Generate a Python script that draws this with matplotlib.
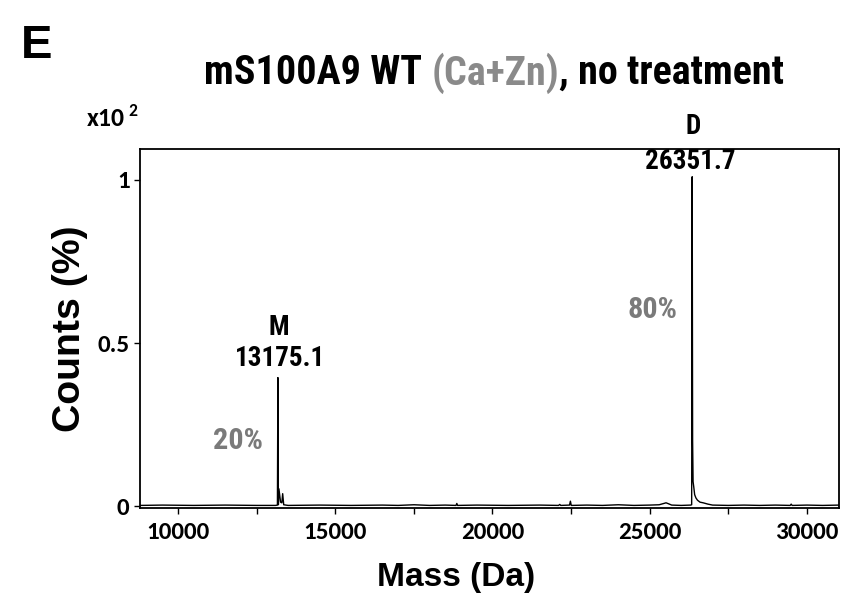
import matplotlib
matplotlib.use("Agg")
import matplotlib.pyplot as plt
from matplotlib import font_manager as fm
from matplotlib.ticker import MultipleLocator, FixedLocator

# deconvoluted mass spectrum (counts in units of 10^2 %)
mass = [8790, 9500, 10500, 11500, 12500, 13100, 13160, 13175.1, 13190, 13207,
        13260, 13300, 13327, 13360, 13500, 14500, 15500, 16500, 17000, 17500,
        18000, 18500, 18840, 18866, 18890, 19500, 20500, 21500, 22100, 22140,
        22170, 22450, 22478, 22505, 23000, 23500, 24000, 24500, 25000, 25300,
        25450, 25520, 25600, 25700, 26000, 26300, 26335, 26351.7, 26365, 26380,
        26400, 26430, 26470, 26520, 26600, 26700, 26850, 27000, 27500, 28000,
        28500, 29000, 29470, 29500, 29530, 30000, 30500, 31020]
counts = [0.002, 0.003, 0.002, 0.003, 0.002, 0.002, 0.003, 0.394, 0.004, 0.053,
          0.012, 0.010, 0.038, 0.004, 0.002, 0.003, 0.002, 0.003, 0.002, 0.004,
          0.002, 0.003, 0.002, 0.008, 0.002, 0.003, 0.002, 0.003, 0.002, 0.005,
          0.002, 0.003, 0.015, 0.002, 0.003, 0.002, 0.004, 0.002, 0.003, 0.004,
          0.008, 0.010, 0.007, 0.003, 0.002, 0.003, 0.004, 1.010, 0.200, 0.075,
          0.060, 0.035, 0.025, 0.018, 0.012, 0.010, 0.006, 0.003, 0.002, 0.003,
          0.002, 0.003, 0.002, 0.006, 0.002, 0.003, 0.002, 0.003]

x_ticks = [10000, 15000, 20000, 25000, 30000]
y_ticks = [0, 0.5, 1]
y_ticklabels = ["0", "0.5", "1"]

peak_names = ["M", "D"]
peak_mass = [13175.1, 26351.7]
peak_share = ["20%", "80%"]

names = {f.name for f in fm.fontManager.ttflist}


def pick(cands):
    for c in cands:
        if c in names:
            return c
    return "DejaVu Sans"


narrow = pick(["Liberation Sans Narrow", "Arial Narrow", "Roboto Condensed", "Archivo Narrow",
               "PT Sans Narrow", "Open Sans Condensed", "IBM Plex Sans Condensed", "Liberation Sans"])
arial = pick(["Arimo", "Liberation Sans", "DejaVu Sans"])
calib = [pick(["Carlito", "Lato", "Open Sans"]), "DejaVu Sans"]
grey = "#8a8a8a"
dark_grey = "#7a7a7a"

fig = plt.figure(figsize=(8.42, 5.93), dpi=100)
r = fig.canvas.get_renderer()


def width_px(s, size, family):
    t = fig.text(0, 0, s, fontsize=size, fontweight="bold", family=family)
    w = t.get_window_extent(r).width
    t.remove()
    return w


def fit(s, target, family):
    return 20 * target / width_px(s, 20, family)


ax = fig.add_axes([0.1663, 0.1433, 0.8301, 0.6054])
ax.plot(mass, counts, color="black", lw=1.0)
ax.set_xlim(8790, 31020)
ax.set_ylim(-0.006, 1.095)

ax.xaxis.set_major_locator(FixedLocator(x_ticks))
ax.xaxis.set_minor_locator(MultipleLocator(2500))
ax.yaxis.set_major_locator(FixedLocator(y_ticks))
ax.set_yticklabels(y_ticklabels)
ax.tick_params(axis="both", which="both", direction="out", length=4, width=1.0)
ax.tick_params(axis="x", pad=6)
tick_size = fit("10000", 64, calib)
for lab in ax.get_xticklabels() + ax.get_yticklabels():
    lab.set_family(calib)
    lab.set_fontweight("bold")
    lab.set_fontsize(tick_size)
for s in ax.spines.values():
    s.set_linewidth(1.3)

ax.set_xlabel("Mass (Da)", fontsize=fit("Mass (Da)", 158, arial), fontweight="bold", family=arial)
ax.set_ylabel("Counts (%)", fontsize=fit("Counts (%)", 207, arial), fontweight="bold", family=arial)
ax.xaxis.set_label_coords(0.452, -0.149)
ax.yaxis.set_label_coords(-0.0745, 0.5)

# axis multiplier
fig.text(0.103, 1 - 119 / 593, "x10", fontsize=fit("x10", 38, calib), fontweight="bold",
         family=calib, va="center")
fig.text(0.152, 1 - 111 / 593, "2", fontsize=tick_size * 0.7, fontweight="bold",
         family=calib, va="center")

# peak labels
num_size = fit("13175.1", 90, narrow)
pct_size = fit("20%", 50, narrow)
lab = dict(fontsize=num_size, fontweight="bold", family=narrow, ha="center", va="center", clip_on=False)
ax.text(peak_mass[0] + 20, 0.548, peak_names[0], **lab)
ax.text(peak_mass[0] + 60, 0.452, "%.1f" % peak_mass[0], **lab)
ax.text(peak_mass[1] + 20, 1.165, peak_names[1], **lab)
ax.text(peak_mass[1] - 60, 1.058, "%.1f" % peak_mass[1], **lab)
lab.update(fontsize=pct_size, color=dark_grey)
ax.text(11900, 0.200, peak_share[0], **lab)
ax.text(25080, 0.600, peak_share[1], **lab)

fig.text(0.025, 0.923, "E", fontsize=34, fontweight="bold", family=arial, va="center")

# title in three colours
parts = ["mS100A9 WT ", "(Ca+Zn)", ", no treatment"]
colors = ["black", grey, "black"]
title_size = fit("".join(parts), 580, narrow)
kw = dict(fontsize=title_size, fontweight="bold", family=narrow, va="center")

w_first = width_px(parts[0] + "x", title_size, narrow) - width_px("x", title_size, narrow)
w_mid = width_px(parts[1], title_size, narrow)
w_last = width_px(parts[2], title_size, narrow)
x0 = 494 - (w_first + w_mid + w_last) / 2
y_title = 1 - 73 / 593
xs = [x0, x0 + w_first, x0 + w_first + w_mid]
for s, c, xp in zip(parts, colors, xs):
    fig.text(xp / 842, y_title, s, color=c, **kw)

fig.savefig("out.png", dpi=100)
